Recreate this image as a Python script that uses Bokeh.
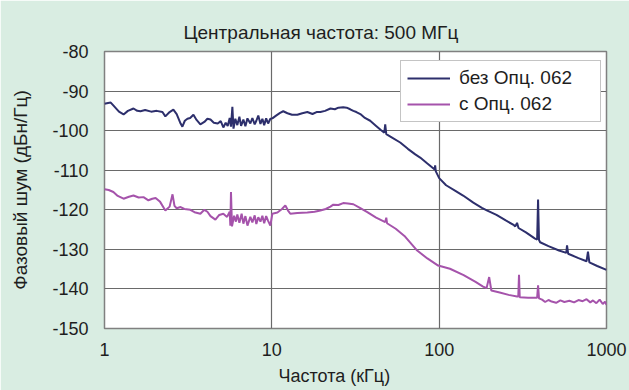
from bokeh.plotting import figure
from bokeh.models import FixedTicker, Legend, LegendItem, Title
from bokeh.embed import file_html
from bokeh.resources import INLINE

# Frequency offset, kHz, and phase noise, dBc/Hz
f_without = [1.0, 1.05, 1.09, 1.15, 1.22, 1.30, 1.38, 1.49, 1.57, 1.64, 1.75, 1.90, 2.05, 2.22,
             2.31, 2.45, 2.58, 2.70, 2.85, 2.92, 3.02, 3.13, 3.25, 3.40, 3.55, 3.74, 3.95, 4.12,
             4.30, 4.50, 4.75, 4.95, 5.13, 5.30, 5.45, 5.60, 5.70, 5.81, 5.90, 6.05, 6.22, 6.40,
             6.55, 6.76, 6.95, 7.15, 7.44, 7.65, 7.90, 8.08, 8.30, 8.55, 8.78, 9.00, 9.25, 9.50,
             9.80, 10.07, 10.6, 11.2, 11.7, 12.4, 13.2, 14.2, 15.2, 16.3, 17.5, 18.5, 19.5, 20.8,
             22.4, 23.8, 25.0, 26.7, 28.0, 29.4, 30.7, 32.0, 33.8, 36.0, 38.7, 42.0, 45.0, 47.0,
             47.6, 48.3, 52.0, 58.5, 65.0, 72.0, 77.0, 85.0, 94.0, 94.6, 95.5, 100, 110, 125,
             139, 160, 180, 194, 220, 250, 280, 285, 292, 298, 330, 374, 385, 390, 395, 401,
             450, 520, 575, 581, 590, 680, 760, 775, 790, 880, 1000]
pn_without = [-93.2, -93.0, -92.9, -94.0, -95.2, -95.9, -95.0, -94.4, -95.0, -95.1, -94.8, -95.2,
              -95.0, -95.3, -96.4, -95.3, -94.7, -95.8, -98.2, -99.0, -97.5, -97.0, -96.8, -96.0,
              -97.3, -98.4, -97.8, -97.0, -97.2, -98.0, -98.2, -97.6, -99.2, -98.0, -98.8, -96.8,
              -99.0, -94.0, -99.5, -97.0, -98.6, -96.5, -98.8, -97.2, -98.9, -96.9, -98.2, -96.8,
              -98.4, -97.5, -96.2, -98.3, -97.0, -98.6, -96.9, -98.2, -97.0, -96.9, -96.2, -95.5,
              -95.1, -95.6, -96.0, -96.0, -95.6, -95.3, -95.8, -95.3, -95.3, -95.0, -94.4, -94.6,
              -94.2, -94.1, -94.2, -94.6, -95.0, -95.3, -95.8, -96.8, -97.5, -98.8, -99.9, -100.5,
              -98.4, -100.9, -101.7, -103.0, -104.6, -106.0, -106.8, -108.3, -109.8, -108.8,
              -110.3, -112.0, -113.8, -115.2, -116.4, -118.2, -119.5, -120.2, -121.3, -122.7,
              -123.9, -124.2, -123.3, -124.6, -125.7, -127.3, -127.5, -117.4, -127.6, -128.2,
              -129.2, -130.3, -130.9, -129.0, -131.1, -132.2, -133.0, -130.6, -133.3, -134.2,
              -135.2]

f_with = [1.0, 1.06, 1.13, 1.20, 1.30, 1.40, 1.49, 1.60, 1.71, 1.83, 1.93, 2.02, 2.15, 2.31,
          2.45, 2.55, 2.62, 2.70, 2.85, 3.00, 3.26, 3.45, 3.74, 3.95, 4.12, 4.30, 4.60, 4.85,
          5.13, 5.40, 5.60, 5.65, 5.70, 5.78, 5.95, 6.10, 6.22, 6.40, 6.60, 6.76, 6.95, 7.15,
          7.44, 7.65, 7.90, 8.08, 8.30, 8.55, 8.78, 9.00, 9.25, 9.50, 9.80, 10.07, 10.8, 11.5,
          12.04, 12.5, 12.9, 14.2, 16.3, 18.0, 19.5, 21.0, 22.4, 23.3, 25.0, 26.7, 28.5, 30.7,
          33.8, 37.2, 42.0, 47.6, 48.3, 48.8, 55, 62, 73.9, 85, 98.6, 116, 140, 165, 183, 192,
          199, 205, 230, 260, 292, 297, 300, 303, 340, 385, 390, 395, 412, 430, 450, 470, 500,
          530, 560, 600, 640, 680, 720, 760, 800, 830, 870, 910, 950, 980, 1000]
pn_with = [-114.8, -115.0, -115.5, -116.5, -117.2, -116.7, -116.4, -116.9, -116.8, -117.6, -117.2,
           -117.0, -118.0, -120.2, -119.2, -116.1, -119.0, -119.6, -119.3, -119.8, -120.0, -120.6,
           -121.0, -120.0, -120.5, -121.6, -122.5, -121.3, -121.0, -121.8, -120.5, -124.0, -115.5,
           -124.2, -121.5, -123.0, -121.2, -123.3, -121.0, -123.5, -121.6, -124.0, -121.8, -123.2,
           -121.4, -123.6, -121.9, -123.0, -121.5, -123.4, -121.6, -122.8, -124.0, -121.0, -120.7,
           -119.8, -118.9, -120.2, -121.0, -120.8, -120.7, -120.5, -120.2, -119.8, -119.2, -118.7,
           -118.8, -118.3, -118.4, -118.6, -119.6, -120.6, -122.0, -123.1, -122.0, -123.4, -124.8,
           -126.6, -130.3, -132.3, -134.1, -134.9, -136.5, -138.2, -139.4, -139.8, -137.0, -140.4,
           -140.9, -141.5, -141.9, -141.9, -136.4, -142.1, -142.2, -142.2, -139.1, -142.4, -142.7,
           -143.3, -142.8, -143.2, -143.5, -142.9, -143.3, -143.0, -143.4, -142.8, -143.1, -142.6,
           -143.4, -142.9, -143.6, -142.7, -143.8, -143.2, -144.0]

x_ticks = [1, 10, 100, 1000]
y_ticks = [-150, -140, -130, -120, -110, -100, -90, -80]
series_names = ["без Опц. 062", "с Опц. 062"]
series_colors = ["#2d2f6c", "#a553ab"]

BG = "#d9ede2"
FONT = "Liberation Sans"
TXT = "#1e1e1e"

p = figure(width=629, height=390, x_axis_type="log", x_range=(1, 1000), y_range=(-150, -80),
           output_backend="svg", toolbar_location=None,
           min_border_left=104, min_border_right=23, min_border_top=51, min_border_bottom=62)
p.background_fill_color = "white"
p.border_fill_color = BG
p.outline_line_color = "#808080"
p.outline_line_width = 1.5

p.xaxis.ticker = FixedTicker(ticks=x_ticks)
p.xaxis.major_label_overrides = {t: str(t) for t in x_ticks}
p.yaxis.ticker = FixedTicker(ticks=y_ticks)
p.yaxis.major_label_overrides = {t: str(t) for t in y_ticks}
p.xgrid.ticker = FixedTicker(ticks=[10, 100])
for g in (p.xgrid, p.ygrid):
    g.grid_line_color = "#6a6a6a"
    g.grid_line_width = 1.2

for ax in (p.xaxis, p.yaxis):
    ax.axis_line_color = None
    ax.major_tick_line_color = None
    ax.minor_tick_line_color = None
    ax.major_label_text_font = FONT
    ax.major_label_text_font_size = "18px"
    ax.major_label_text_color = TXT
p.xaxis.major_label_standoff = 8
p.yaxis.major_label_standoff = 10
p.yaxis.axis_label = "Фазовый шум (дБн/Гц)"
p.yaxis.axis_label_text_font = FONT
p.yaxis.axis_label_text_font_size = "19px"
p.yaxis.axis_label_text_font_style = "normal"
p.yaxis.axis_label_text_color = TXT
p.yaxis.axis_label_standoff = 18

r1 = p.line(f_without, pn_without, line_color=series_colors[0], line_width=2)
r2 = p.line(f_with, pn_with, line_color=series_colors[1], line_width=2)

legend = Legend(items=[LegendItem(label=series_names[0], renderers=[r1]),
                       LegendItem(label=series_names[1], renderers=[r2])],
                location=(296, 206))
legend.label_text_font = FONT
legend.label_text_font_size = "19px"
legend.label_text_color = TXT
legend.glyph_width = 43
legend.label_standoff = 9
legend.label_height = 22
legend.label_width = 135
legend.glyph_height = 22
legend.spacing = 4
legend.padding = 6
legend.margin = 0
legend.border_line_color = "#8a8a8a"
legend.border_line_width = 1.5
legend.background_fill_color = "white"
legend.background_fill_alpha = 1
p.add_layout(legend, "center")

title = Title(text="Центральная частота: 500 МГц", align="left", offset=79,
              text_font=FONT, text_font_size="19px", text_font_style="normal",
              text_color=TXT, standoff=18)
p.add_layout(title, "above")

xlab = Title(text="Частота (кГц)", align="left", offset=174,
             text_font=FONT, text_font_size="18px", text_font_style="normal",
             text_color=TXT, standoff=10)
p.add_layout(xlab, "below")

open("out.html", "w").write(file_html(p, INLINE))
